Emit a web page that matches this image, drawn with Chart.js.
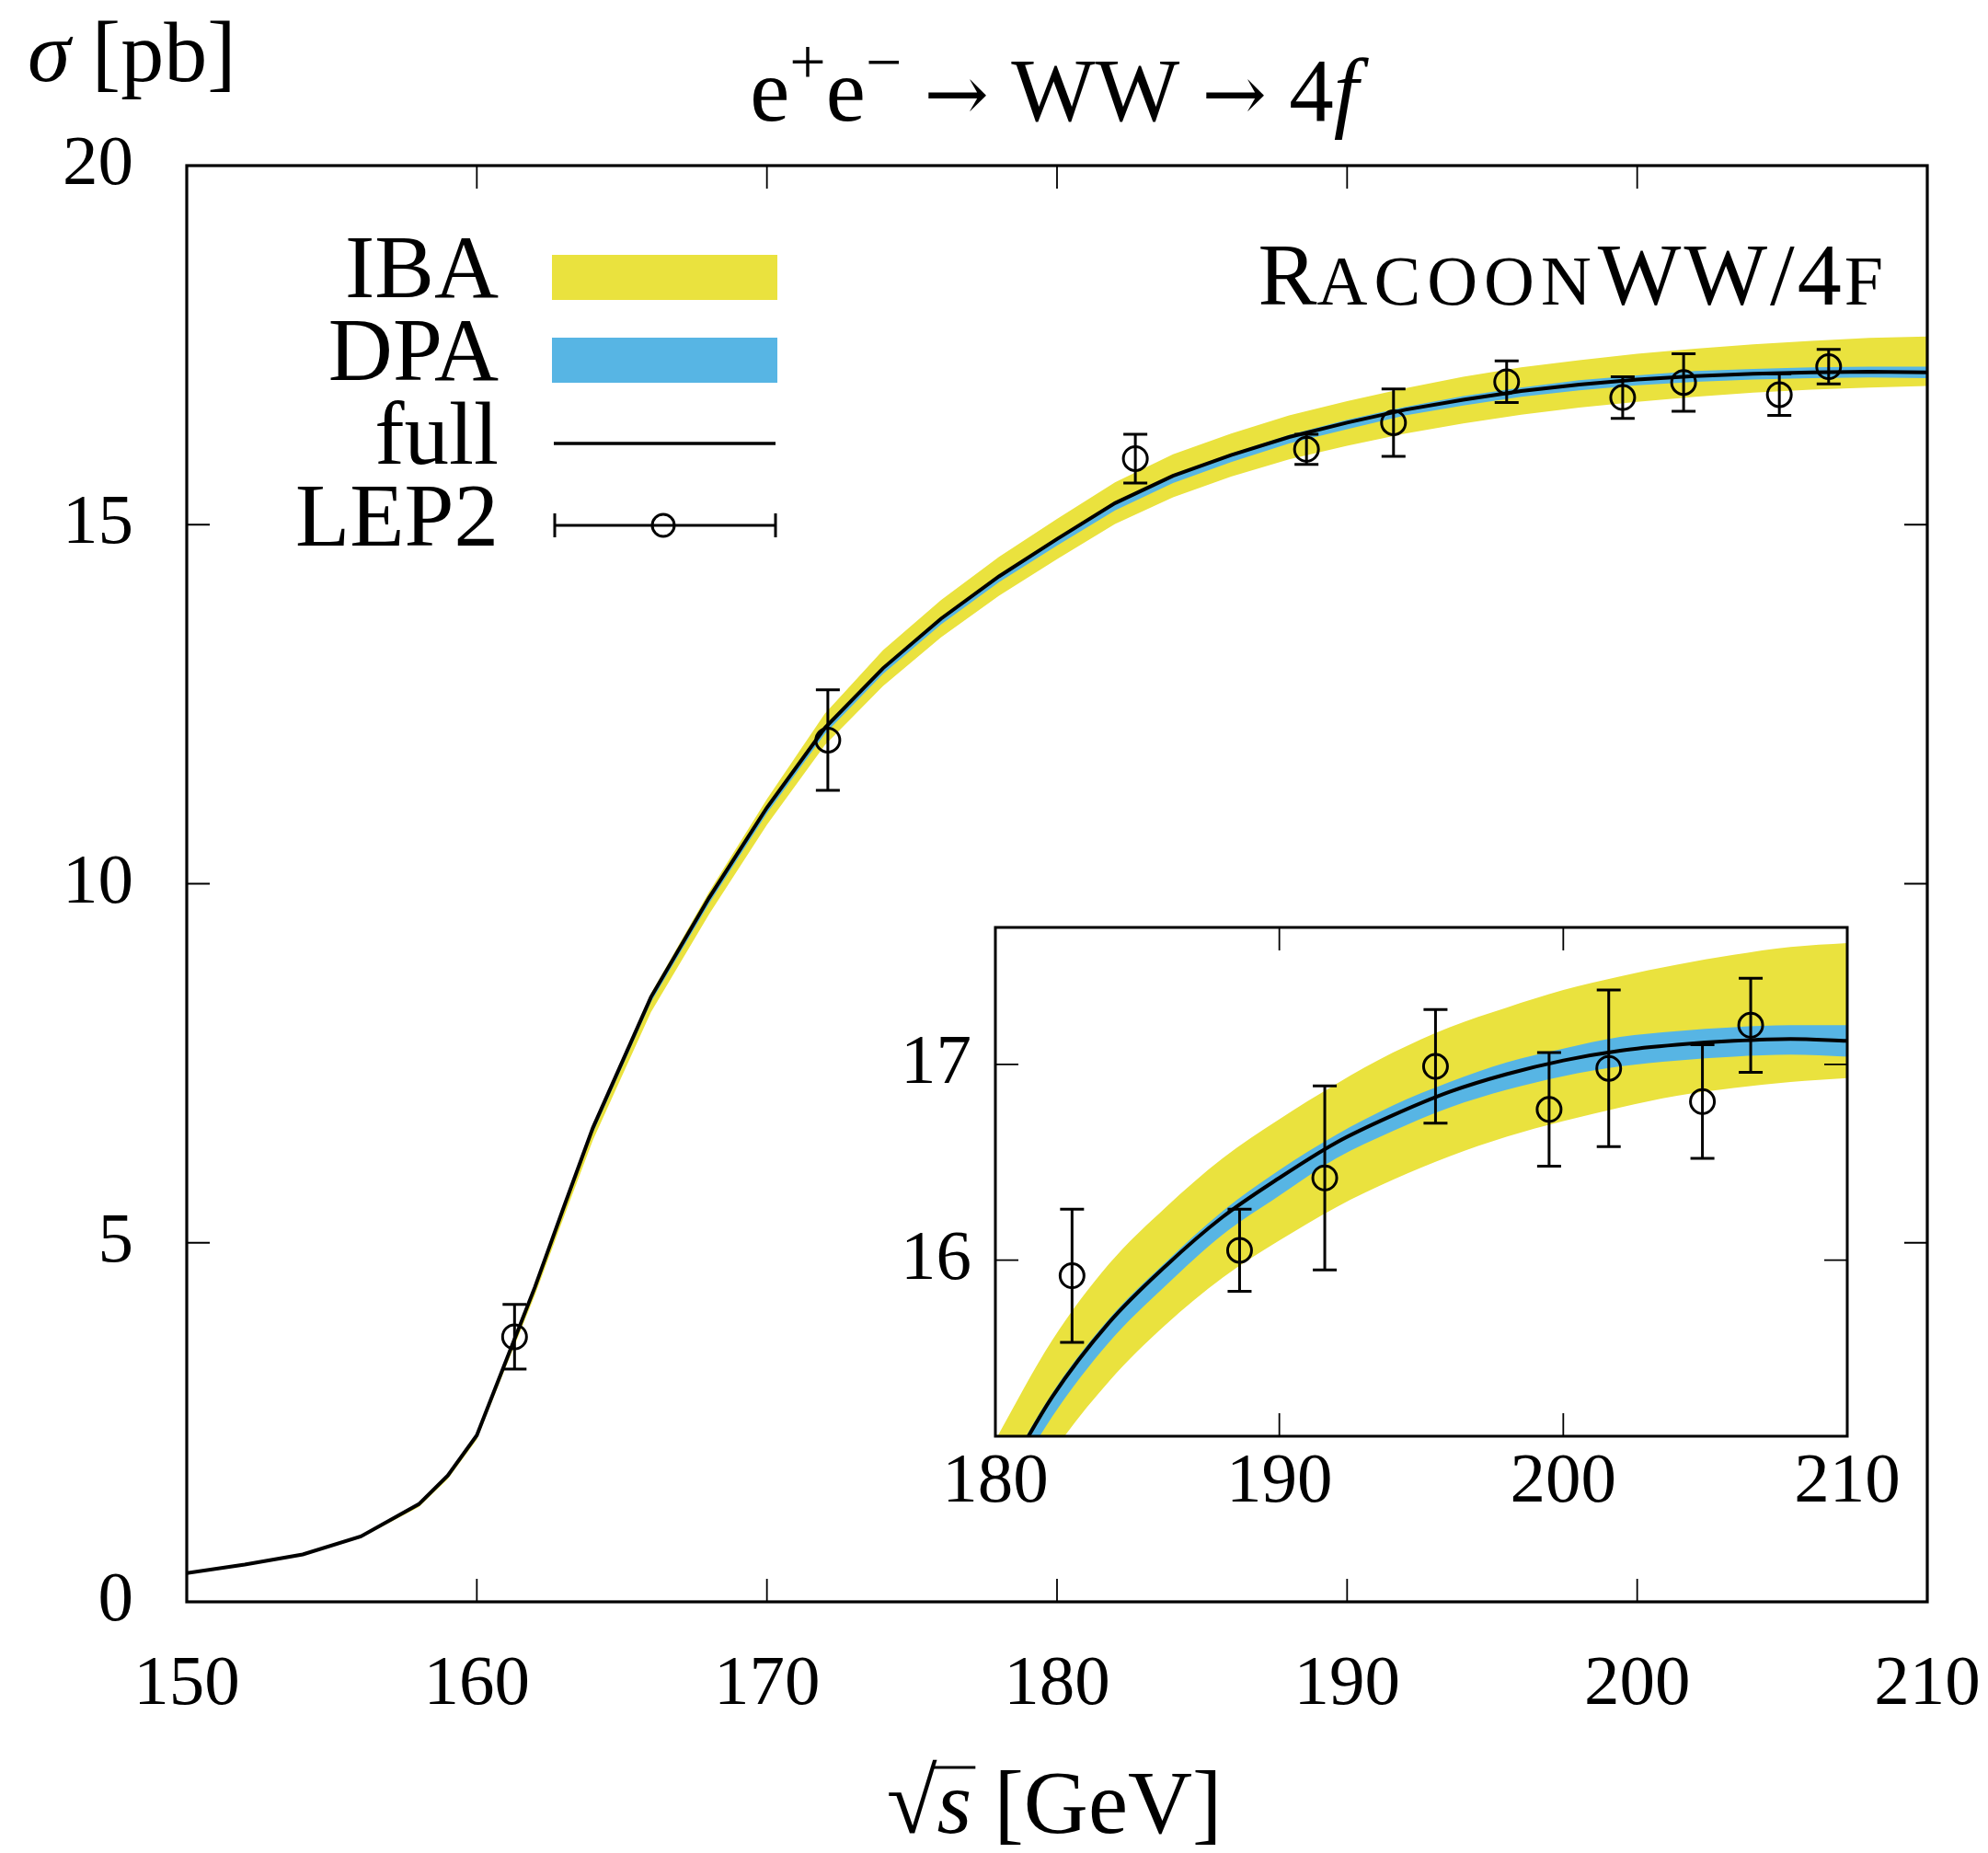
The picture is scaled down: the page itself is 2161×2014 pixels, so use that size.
<!DOCTYPE html>
<html>
<head>
<meta charset="utf-8">
<script src="https://cdn.jsdelivr.net/npm/chart.js@4.4.1/dist/chart.umd.min.js"></script>
<style>
  html, body { margin: 0; padding: 0; background: #fff; }
  #wrap { position: relative; width: 2161px; height: 2014px; }
  #main { position: absolute; left: 0; top: 0; }
  #inset { position: absolute; left: 940px; top: 980px; }
</style>
</head>
<body>
<div id="wrap">
  <canvas id="main" width="2161" height="2014"></canvas>
  <canvas id="inset" width="1130" height="700"></canvas>
</div>
<script>
// sqrt(s) grid [GeV] and cross sections [pb]
const energy = [150,152,154,156,158,159,160,161,162,163,164,166,168,170,172,174,176,178,180,182,184,186,188,190,192,194,196,198,200,202,204,206,208,210];
const sigmaFull = [0.40,0.52,0.66,0.91,1.36,1.76,2.32,3.35,4.38,5.50,6.60,8.42,9.80,11.06,12.17,13.00,13.69,14.28,14.80,15.30,15.68,15.97,16.22,16.42,16.60,16.74,16.86,16.95,17.02,17.07,17.10,17.12,17.13,17.12];
const ibaUpper = [0.41,0.53,0.67,0.93,1.37,1.77,2.33,3.37,4.40,5.53,6.63,8.47,9.88,11.18,12.37,13.25,13.95,14.55,15.08,15.59,15.98,16.27,16.52,16.72,16.90,17.06,17.19,17.29,17.38,17.45,17.51,17.56,17.60,17.62];
const ibaLower = [0.39,0.51,0.65,0.89,1.32,1.71,2.26,3.27,4.27,5.36,6.43,8.21,9.57,10.82,11.93,12.75,13.43,14.01,14.52,15.01,15.38,15.67,15.91,16.10,16.27,16.41,16.53,16.63,16.71,16.78,16.84,16.88,16.91,16.93];

const dpaEnergy = [164,166,168,170,172,174,176,178,180,182,184,186,188,190,192,194,196,198,200,202,204,206,208,210];
const dpaUpper = [6.61,8.44,9.82,11.08,12.19,13.02,13.71,14.30,14.82,15.32,15.70,15.99,16.25,16.46,16.64,16.79,16.91,17.01,17.08,17.14,17.17,17.19,17.20,17.20];
const dpaLower = [6.53,8.35,9.72,10.98,12.09,12.92,13.61,14.20,14.71,15.20,15.58,15.87,16.13,16.33,16.52,16.66,16.78,16.87,16.94,16.99,17.02,17.04,17.05,17.04];

// LEP2 measurements
const lepEnergy = [161.3,172.1,182.7,188.6,191.6,195.5,199.5,201.6,204.9,206.6];
const lepSigma = [3.69,12.00,15.92,16.05,16.42,16.99,16.77,16.98,16.81,17.20];
const lepError = [0.45,0.70,0.34,0.21,0.47,0.29,0.29,0.40,0.29,0.24];

const mainXTicks = [150,160,170,180,190,200,210];
const mainYTicks = [0,5,10,15,20];
const insetXTicks = [180,190,200,210];
const insetYTicks = [16,17];

const YELLOW = 'rgb(234,226,62)';
const BLUE = 'rgb(87,181,228)';
const SERIF = '"Liberation Serif", "DejaVu Serif", serif';
const ARROW = '"DejaVu Serif", serif';
const F = (size, style, fam) => (style ? style + ' ' : '') + size + 'px ' + (fam || SERIF);

const pts = (xs, ys) => xs.map((v, i) => ({ x: v, y: ys[i] }));

function makeDatasets(smooth) {
  const line = { pointRadius: 0, borderWidth: 0, tension: 0, clip: 0 };
  if (smooth) line.cubicInterpolationMode = 'monotone';
  return [
    { ...line, data: pts(energy, ibaUpper), backgroundColor: YELLOW, borderColor: YELLOW, fill: '+1', order: 6 },
    { ...line, data: pts(energy, ibaLower), borderColor: YELLOW, fill: false, order: 5 },
    { ...line, data: pts(dpaEnergy, dpaUpper), backgroundColor: BLUE, borderColor: BLUE, fill: '+1', order: 4 },
    { ...line, data: pts(dpaEnergy, dpaLower), borderColor: BLUE, fill: false, order: 3 },
    { ...line, data: pts(energy, sigmaFull), borderColor: '#000', borderWidth: 4, fill: false, order: 2 },
    { type: 'scatter', data: pts(lepEnergy, lepSigma), showLine: false, pointRadius: 13, pointHoverRadius: 13,
      borderColor: '#000', backgroundColor: 'rgba(0,0,0,0)', borderWidth: 3, order: 1 }
  ];
}

const TICK = 25;
function frameAndTicks(chart, xt, yt, lw) {
  const { ctx, chartArea: a, scales: { x, y } } = chart;
  ctx.save();
  ctx.strokeStyle = '#000';
  ctx.lineWidth = 1.8;
  ctx.beginPath();
  xt.forEach(v => {
    const px = x.getPixelForValue(v);
    ctx.moveTo(px, a.bottom); ctx.lineTo(px, a.bottom - TICK);
    ctx.moveTo(px, a.top); ctx.lineTo(px, a.top + TICK);
  });
  yt.forEach(v => {
    const py = y.getPixelForValue(v);
    ctx.moveTo(a.left, py); ctx.lineTo(a.left + TICK, py);
    ctx.moveTo(a.right, py); ctx.lineTo(a.right - TICK, py);
  });
  ctx.stroke();
  ctx.lineWidth = lw;
  ctx.strokeRect(a.left, a.top, a.right - a.left, a.bottom - a.top);
  ctx.restore();
}

function errorBars(chart) {
  const { ctx, chartArea: a, scales: { x, y } } = chart;
  ctx.save();
  ctx.beginPath();
  ctx.rect(a.left, a.top, a.right - a.left, a.bottom - a.top);
  ctx.clip();
  ctx.strokeStyle = '#000';
  ctx.lineWidth = 3;
  lepEnergy.forEach((e, i) => {
    const px = x.getPixelForValue(e);
    if (px < a.left - 20 || px > a.right + 20) return;
    const hi = y.getPixelForValue(lepSigma[i] + lepError[i]);
    const lo = y.getPixelForValue(lepSigma[i] - lepError[i]);
    ctx.beginPath();
    ctx.moveTo(px, hi); ctx.lineTo(px, lo);
    ctx.moveTo(px - 13, hi); ctx.lineTo(px + 13, hi);
    ctx.moveTo(px - 13, lo); ctx.lineTo(px + 13, lo);
    ctx.stroke();
  });
  ctx.restore();
}

// text made of runs: [text, font, dy, letterSpacing]
function runs(ctx, list, x, y, align) {
  ctx.save();
  ctx.textBaseline = 'alphabetic';
  ctx.textAlign = 'left';
  ctx.fillStyle = '#000';
  let total = 0;
  list.forEach(r => {
    ctx.font = r[1];
    ctx.letterSpacing = (r[3] || 0) + 'px';
    total += ctx.measureText(r[0]).width;
  });
  let cx = align === 'center' ? x - total / 2 : align === 'right' ? x - total : x;
  const pos = [];
  list.forEach(r => {
    ctx.font = r[1];
    ctx.letterSpacing = (r[3] || 0) + 'px';
    ctx.fillText(r[0], cx, y + (r[2] || 0));
    const w = ctx.measureText(r[0]).width;
    pos.push([cx, w]);
    cx += w;
  });
  ctx.restore();
  return pos;
}

const decorations = {
  id: 'decorations',
  afterDatasetsDraw(chart) {
    const ctx = chart.ctx;
    errorBars(chart);
    frameAndTicks(chart, mainXTicks, mainYTicks, 3.2);

    // axis labels and title
    runs(ctx, [['σ', F(94, 'italic')], [' [pb]', F(94)]], 30, 88, 'left');
    runs(ctx, [['e', F(97)], ['+', F(70), -40], ['e', F(97)], ['−', F(70), -40],
               [' ', F(97)], ['→', F(84, '', ARROW)], [' WW ', F(97)], ['→', F(84, '', ARROW)],
               [' 4', F(97)], ['f', F(97, 'italic')]], 1146, 131, 'center');
    const p = runs(ctx, [['√', F(100)], ['s', F(97, 'italic')], [' [GeV]', F(97)]], 1146, 1992, 'center');
    ctx.save();
    ctx.strokeStyle = '#000';
    ctx.lineWidth = 3;
    ctx.beginPath();
    ctx.moveTo(p[1][0] - 4, 1921);
    ctx.lineTo(p[1][0] + p[1][1] + 4, 1921);
    ctx.stroke();
    ctx.restore();

    runs(ctx, [['R', F(96)], ['ACOON', F(76), 0, 7], ['WW/4', F(96), 0, 3], ['F', F(76)]], 2047, 331, 'right');

    // legend
    runs(ctx, [['IBA', F(97)]], 542, 323, 'right');
    runs(ctx, [['DPA', F(97)]], 542, 413, 'right');
    runs(ctx, [['full', F(97)]], 542, 504, 'right');
    runs(ctx, [['LEP2', F(97)]], 542, 593, 'right');
    ctx.save();
    ctx.fillStyle = YELLOW;
    ctx.fillRect(600, 277, 245, 49);
    ctx.fillStyle = BLUE;
    ctx.fillRect(600, 367, 245, 49);
    ctx.strokeStyle = '#000';
    ctx.lineWidth = 3.5;
    ctx.beginPath();
    ctx.moveTo(602, 482); ctx.lineTo(843, 482);
    ctx.stroke();
    ctx.lineWidth = 3;
    ctx.beginPath();
    ctx.moveTo(603, 571); ctx.lineTo(843, 571);
    ctx.moveTo(603, 558); ctx.lineTo(603, 584);
    ctx.moveTo(843, 558); ctx.lineTo(843, 584);
    ctx.stroke();
    ctx.beginPath();
    ctx.arc(721, 571, 12, 0, Math.PI * 2);
    ctx.stroke();
    ctx.restore();
  }
};

const insetDecorations = {
  id: 'insetDecorations',
  beforeDatasetsDraw(chart) {
    const { ctx, chartArea: a } = chart;
    ctx.save();
    ctx.fillStyle = '#fff';
    ctx.fillRect(a.left, a.top, a.right - a.left, a.bottom - a.top);
    ctx.restore();
  },
  afterDatasetsDraw(chart) {
    errorBars(chart);
    frameAndTicks(chart, insetXTicks, insetYTicks, 3);
  }
};

function tickFont() {
  return { family: SERIF, size: 77, lineHeight: 1 };
}

// keep the layout padding exact: no extra room for edge labels
function fixSize(w, h) {
  return s => {
    if (w !== null) s.width = w;
    if (h !== null) s.height = h;
    s.paddingLeft = s.paddingRight = s.paddingTop = s.paddingBottom = 0;
  };
}

Chart.defaults.color = '#000';

new Chart(document.getElementById('main'), {
  type: 'line',
  data: { datasets: makeDatasets(false) },
  options: {
    responsive: false,
    animation: false,
    devicePixelRatio: 1,
    layout: { padding: { top: 180, right: 66, left: 0, bottom: 0 } },
    plugins: { legend: { display: false }, tooltip: { enabled: false }, title: { display: false } },
    scales: {
      x: {
        type: 'linear', min: 150, max: 210,
        ticks: { stepSize: 10, padding: 52, font: tickFont(), color: '#000', maxRotation: 0, autoSkip: false },
        grid: { display: false, drawTicks: false },
        border: { display: false },
        afterFit: fixSize(null, 2014 - 1741)
      },
      y: {
        type: 'linear', min: 0, max: 20,
        ticks: { stepSize: 5, padding: 58, font: tickFont(), color: '#000' },
        grid: { display: false, drawTicks: false },
        border: { display: false },
        afterFit: fixSize(203, null)
      }
    }
  },
  plugins: [decorations]
});

new Chart(document.getElementById('inset'), {
  type: 'line',
  data: { datasets: makeDatasets(true) },
  options: {
    responsive: false,
    animation: false,
    devicePixelRatio: 1,
    layout: { padding: { top: 28, right: 62, left: 0, bottom: 0 } },
    plugins: { legend: { display: false }, tooltip: { enabled: false }, title: { display: false } },
    scales: {
      x: {
        type: 'linear', min: 180, max: 210,
        ticks: { stepSize: 10, padding: 12, font: tickFont(), color: '#000', maxRotation: 0, autoSkip: false },
        grid: { display: false, drawTicks: false },
        border: { display: false },
        afterFit: fixSize(null, 700 - 581)
      },
      y: {
        type: 'linear', min: 15.1, max: 17.7,
        ticks: { padding: 26, font: tickFont(), color: '#000' },
        afterBuildTicks(s) { s.ticks = insetYTicks.map(v => ({ value: v })); },
        grid: { display: false, drawTicks: false },
        border: { display: false },
        afterFit: fixSize(142, null)
      }
    }
  },
  plugins: [insetDecorations]
});
</script>
</body>
</html>
